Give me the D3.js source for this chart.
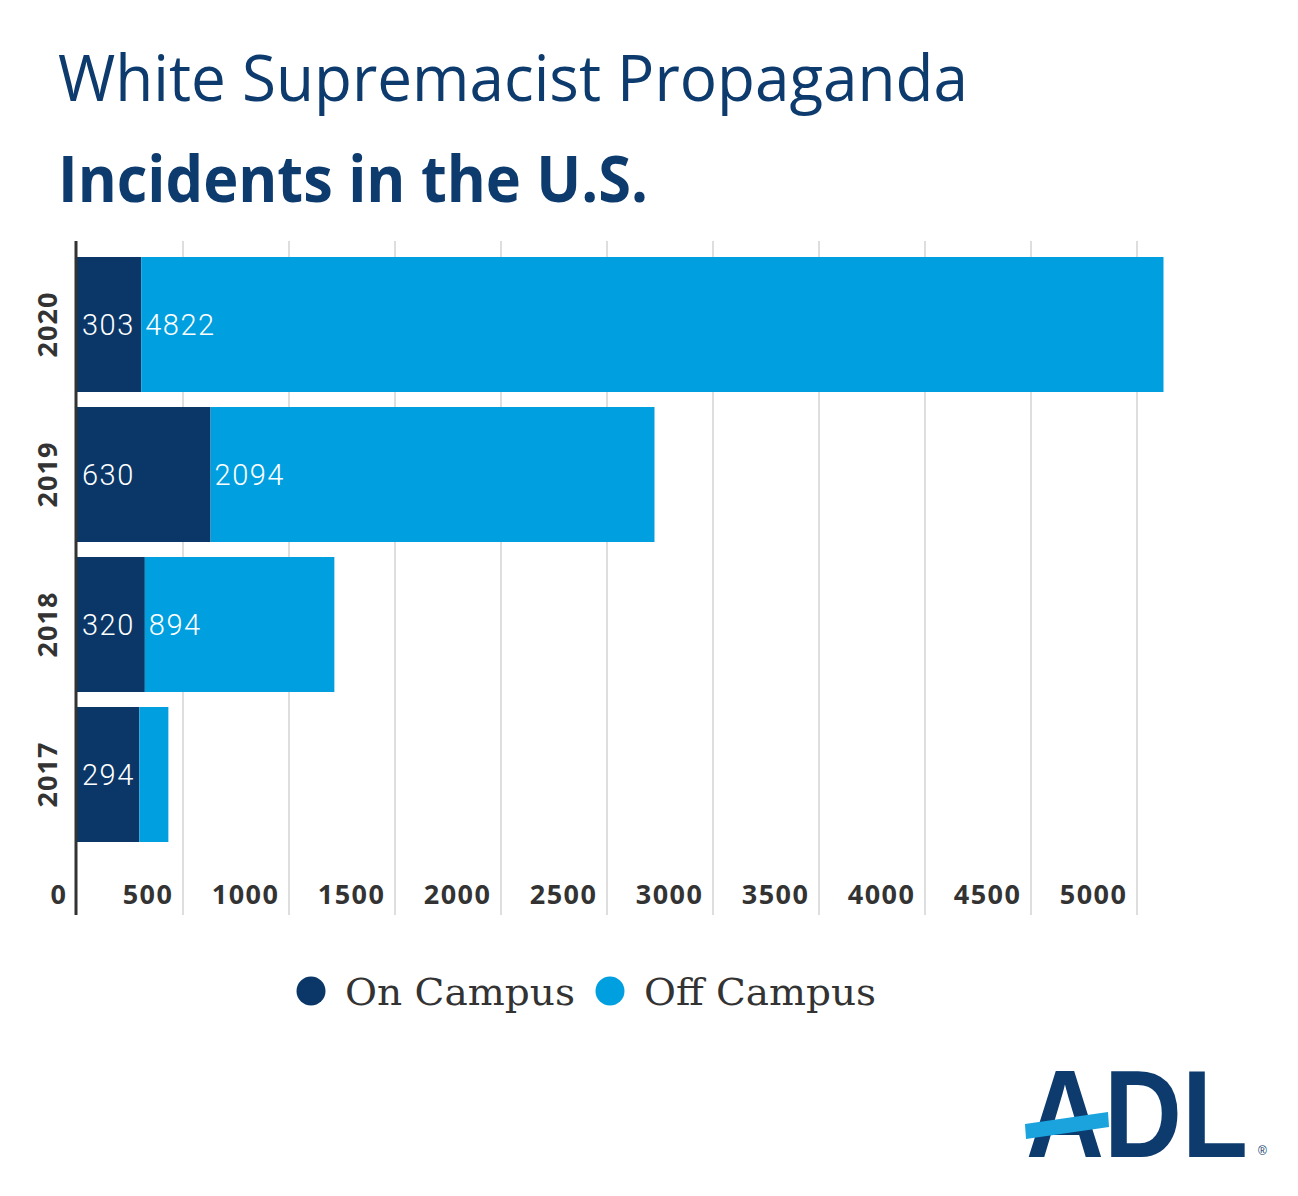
<!DOCTYPE html>
<html><head><meta charset="utf-8">
<script src="https://cdn.jsdelivr.net/npm/d3@7"></script>
<style>body{margin:0;background:#fff}svg{display:block}</style>
</head><body>
<script>
const years = ["2020","2019","2018","2017"];
const onCampus = [303, 630, 320, 294];
const offCampus = [4822, 2094, 894, 137];
const showOffLabel = [true, true, true, false];
const tickValues = [0,500,1000,1500,2000,2500,3000,3500,4000,4500,5000];
const seriesNames = ["On Campus","Off Campus"];
const colors = ["#0b3768","#009fdf"];

(function(){
const W=1298,H=1196;
const svg=d3.select("body").append("svg").attr("width",W).attr("height",H);

// titles
svg.append("text").attr("x",58).attr("y",101).text("White Supremacist Propaganda")
 .attr("font-family","Open Sans").attr("font-weight",400).attr("font-size",64)
 .attr("fill","#0d3b6e").attr("textLength",910).attr("lengthAdjust","spacingAndGlyphs");
svg.append("text").attr("x",58).attr("y",202).text("Incidents in the U.S.")
 .attr("font-family","Open Sans").attr("font-weight",700).attr("font-size",64)
 .attr("fill","#0d3b6e").attr("textLength",590).attr("lengthAdjust","spacingAndGlyphs");

const x=d3.scaleLinear().domain([0,5000]).range([77,1137]);
const y=d3.scaleBand().domain(years).range([257,842]).paddingInner(0.1).paddingOuter(0);
const yTop=241,yBottom=915;

// gridlines
svg.append("g").selectAll("line").data(tickValues.slice(1)).join("line")
 .attr("x1",d=>x(d)).attr("x2",d=>x(d)).attr("y1",yTop).attr("y2",yBottom)
 .attr("stroke","#dedede").attr("stroke-width",2);

// tick labels via axis
const ax=svg.append("g").attr("transform",`translate(0,${yBottom-11})`)
 .call(d3.axisBottom(x).tickValues(tickValues).tickSize(0).tickFormat(d3.format("d")));
ax.select(".domain").remove();
ax.selectAll("text").attr("text-anchor","end").attr("dx",-10).attr("dy",0).attr("y",0)
 .attr("font-family","Open Sans").attr("font-weight",700).attr("font-size",27)
 .attr("letter-spacing",1.5).attr("fill","#333");

// bars
const g=svg.append("g");
years.forEach((yr,i)=>{
  const y0=y(yr), h=y.bandwidth();
  g.append("rect").attr("x",x(0)).attr("y",y0).attr("width",x(onCampus[i])-x(0)).attr("height",h).attr("fill",colors[0]);
  g.append("rect").attr("x",x(onCampus[i])).attr("y",y0).attr("width",x(onCampus[i]+offCampus[i])-x(onCampus[i])).attr("height",h).attr("fill",colors[1]);
  g.append("text").attr("x",x(0)+5).attr("y",y0+h/2).attr("dy","0.36em").text(onCampus[i])
   .attr("font-family","Roboto").attr("font-weight",300).attr("font-size",29).attr("letter-spacing",1.5).attr("fill","#fff");
  if(showOffLabel[i]) g.append("text").attr("x",x(onCampus[i])+4).attr("y",y0+h/2).attr("dy","0.36em").text(offCampus[i])
   .attr("font-family","Roboto").attr("font-weight",300).attr("font-size",29).attr("letter-spacing",1.5).attr("fill","#fff");
  svg.append("text").attr("transform",`translate(57,${y0+h/2}) rotate(-90)`).attr("text-anchor","middle")
   .text(yr).attr("font-family","Open Sans").attr("font-weight",700).attr("font-size",27)
   .attr("letter-spacing",1).attr("fill","#333");
});

// axis line
svg.append("line").attr("x1",76).attr("x2",76).attr("y1",yTop).attr("y2",yBottom).attr("stroke","#333").attr("stroke-width",3);

// legend
const leg=[{x:311,tx:345,w:230},{x:610,tx:644,w:232}];
seriesNames.forEach((n,i)=>{
  svg.append("circle").attr("cx",leg[i].x).attr("cy",991).attr("r",14.5).attr("fill",colors[i]);
  svg.append("text").attr("x",leg[i].tx).attr("y",1005).text(n).attr("font-family","DejaVu Serif")
   .attr("font-size",38).attr("fill","#333").attr("textLength",leg[i].w).attr("lengthAdjust","spacingAndGlyphs");
});

// ADL logo
const logo=svg.append("g");
logo.append("text").attr("transform","translate(1026,1157) scale(1,1.15)").text("ADL").attr("font-family","Liberation Sans")
 .attr("font-weight",700).attr("font-size",108).attr("fill","#0d3b6e");
logo.append("path").attr("d","M1025,1124 L1108,1112 L1109,1127 L1026,1139 Z").attr("fill","#1ba3dd");
logo.append("text").attr("x",1258).attr("y",1155).text("®").attr("font-family","Liberation Sans").attr("font-size",12).attr("fill","#0d3b6e");
})();
</script>
</body></html>
